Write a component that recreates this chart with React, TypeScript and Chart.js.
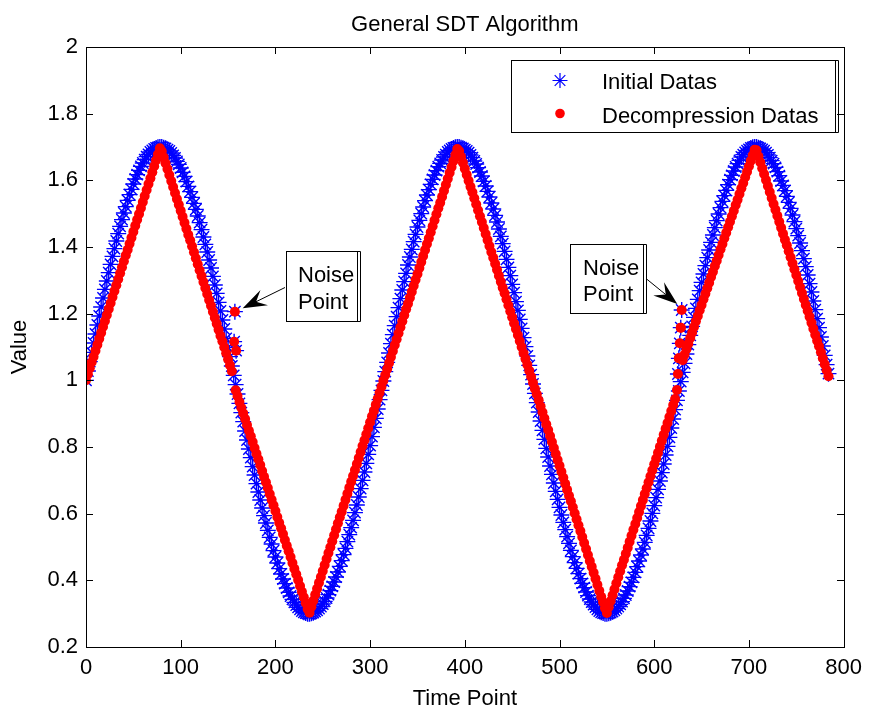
import React, { useEffect, useRef } from 'react';
import { Chart, registerables } from 'chart.js';

Chart.register(...registerables);

const FONT = "'Liberation Sans', Arial, Helvetica, sans-serif";
const TIME_STEP = 2;

// ---- data ----
const cycleStartTimes = [0, 316, 630];

// Initial Datas (blue asterisks), t = 0..314
const initialCycle1 = [
  1.000, 1.028, 1.056, 1.084, 1.112, 1.139, 1.166, 1.193, 1.220, 1.247,
  1.273, 1.298, 1.323, 1.348, 1.372, 1.395, 1.418, 1.440, 1.462, 1.482,
  1.502, 1.521, 1.540, 1.557, 1.573, 1.589, 1.604, 1.617, 1.630, 1.642,
  1.652, 1.662, 1.671, 1.678, 1.685, 1.690, 1.694, 1.697, 1.699, 1.700,
  1.700, 1.698, 1.696, 1.692, 1.688, 1.682, 1.675, 1.667, 1.657, 1.648,
  1.637, 1.624, 1.612, 1.596, 1.582, 1.566, 1.549, 1.531, 1.513, 1.493,
  1.473, 1.452, 1.430, 1.408, 1.385, 1.361, 1.337, 1.312, 1.286, 1.261,
  1.234, 1.208, 1.181, 1.154, 1.126, 1.099, 1.071, 1.043, 1.015, 0.987,
  0.959, 0.931, 0.903, 0.876, 0.848, 0.821, 0.794, 0.768, 0.741, 0.716,
  0.690, 0.665, 0.641, 0.617, 0.594, 0.572, 0.550, 0.529, 0.509, 0.489,
  0.470, 0.452, 0.435, 0.419, 0.404, 0.390, 0.377, 0.364, 0.353, 0.343,
  0.334, 0.326, 0.319, 0.313, 0.308, 0.304, 0.302, 0.300, 0.300, 0.301,
  0.303, 0.306, 0.310, 0.315, 0.321, 0.329, 0.337, 0.347, 0.357, 0.369,
  0.382, 0.395, 0.410, 0.425, 0.442, 0.459, 0.477, 0.496, 0.516, 0.537,
  0.558, 0.580, 0.603, 0.626, 0.650, 0.675, 0.700, 0.725, 0.751, 0.778,
  0.804, 0.831, 0.859, 0.886, 0.914, 0.942, 0.970, 0.998,
];
// t = 316..628
const initialCycle2 = [
  1.026, 1.054, 1.082, 1.110, 1.137, 1.164, 1.191, 1.218, 1.245,
  1.271, 1.296, 1.321, 1.346, 1.370, 1.393, 1.416, 1.438, 1.460, 1.480,
  1.500, 1.520, 1.539, 1.556, 1.572, 1.588, 1.603, 1.616, 1.629, 1.641,
  1.651, 1.661, 1.670, 1.677, 1.685, 1.690, 1.694, 1.697, 1.699, 1.700,
  1.700, 1.698, 1.696, 1.692, 1.688, 1.683, 1.676, 1.668, 1.658, 1.649,
  1.638, 1.625, 1.613, 1.597, 1.583, 1.567, 1.550, 1.532, 1.514, 1.495,
  1.475, 1.454, 1.432, 1.410, 1.387, 1.363, 1.339, 1.314, 1.288, 1.263,
  1.236, 1.210, 1.183, 1.156, 1.128, 1.101, 1.073, 1.045, 1.017, 0.989,
  0.961, 0.933, 0.905, 0.878, 0.850, 0.823, 0.796, 0.770, 0.743, 0.718,
  0.692, 0.667, 0.643, 0.619, 0.596, 0.574, 0.552, 0.531, 0.511, 0.490,
  0.471, 0.453, 0.436, 0.420, 0.405, 0.391, 0.378, 0.365, 0.354, 0.344,
  0.335, 0.327, 0.320, 0.313, 0.308, 0.304, 0.302, 0.300, 0.300, 0.301,
  0.303, 0.306, 0.310, 0.315, 0.321, 0.328, 0.336, 0.346, 0.356, 0.368,
  0.381, 0.394, 0.409, 0.424, 0.441, 0.458, 0.476, 0.494, 0.514, 0.535,
  0.556, 0.578, 0.601, 0.624, 0.648, 0.673, 0.698, 0.723, 0.749, 0.776,
  0.802, 0.829, 0.857, 0.884, 0.912, 0.940, 0.968, 0.996,
];
// t = 630..784
const initialCycle3 = [
  1.024, 1.051, 1.079, 1.107, 1.135, 1.162, 1.189, 1.216, 1.243,
  1.269, 1.294, 1.319, 1.344, 1.368, 1.391, 1.414, 1.436, 1.458, 1.479,
  1.499, 1.518, 1.537, 1.554, 1.570, 1.587, 1.602, 1.615, 1.628, 1.640,
  1.650, 1.660, 1.670, 1.677, 1.684, 1.689, 1.693, 1.697, 1.699, 1.700,
  1.700, 1.698, 1.696, 1.693, 1.689, 1.683, 1.676, 1.668, 1.659, 1.650,
  1.639, 1.626, 1.614, 1.598, 1.585, 1.569, 1.552, 1.534, 1.516, 1.496,
  1.476, 1.455, 1.434, 1.412, 1.389, 1.365, 1.341, 1.316, 1.290, 1.265,
  1.238, 1.212, 1.185, 1.158, 1.130, 1.103, 1.075, 1.047, 1.020,
];

// Decompression Datas (red dots), t = 0..314
const decompressionCycle1 = [
  1.000, 1.018, 1.036, 1.054, 1.071, 1.089, 1.107, 1.125, 1.143, 1.161,
  1.178, 1.196, 1.214, 1.232, 1.250, 1.268, 1.285, 1.303, 1.321, 1.339,
  1.357, 1.375, 1.392, 1.410, 1.428, 1.446, 1.464, 1.482, 1.499, 1.517,
  1.535, 1.553, 1.571, 1.589, 1.606, 1.624, 1.642, 1.660, 1.678, 1.696,
  1.687, 1.669, 1.651, 1.634, 1.616, 1.598, 1.580, 1.562, 1.544, 1.527,
  1.509, 1.491, 1.473, 1.455, 1.437, 1.420, 1.402, 1.384, 1.366, 1.348,
  1.330, 1.313, 1.295, 1.277, 1.259, 1.241, 1.224, 1.206, 1.188, 1.170,
  1.152, 1.134, 1.117, 1.099, 1.081, 1.063, 1.045, 1.027, null, 0.970,
  0.953, 0.935, 0.918, 0.901, 0.884, 0.866, 0.849, 0.832, 0.815, 0.797,
  0.780, 0.763, 0.746, 0.728, 0.711, 0.694, 0.677, 0.659, 0.642, 0.625,
  0.608, 0.590, 0.573, 0.556, 0.539, 0.521, 0.504, 0.487, 0.470, 0.452,
  0.435, 0.418, 0.401, 0.383, 0.366, 0.349, 0.332, 0.314, 0.303, 0.321,
  0.339, 0.357, 0.375, 0.393, 0.410, 0.428, 0.446, 0.464, 0.482, 0.499,
  0.517, 0.535, 0.553, 0.571, 0.589, 0.606, 0.624, 0.642, 0.660, 0.678,
  0.696, 0.713, 0.731, 0.749, 0.767, 0.785, 0.803, 0.820, 0.838, 0.856,
  0.874, 0.892, 0.909, 0.927, 0.945, 0.963, 0.981, 0.999,
];
// t = 316..628
const decompressionCycle2 = [
  1.016, 1.034, 1.052, 1.070, 1.088, 1.106, 1.123, 1.141, 1.159, 1.177,
  1.195, 1.213, 1.230, 1.248, 1.266, 1.284, 1.302, 1.319, 1.337, 1.355,
  1.373, 1.391, 1.409, 1.426, 1.444, 1.462, 1.480, 1.498, 1.516, 1.533,
  1.551, 1.569, 1.587, 1.605, 1.623, 1.640, 1.658, 1.676, 1.694, 1.688,
  1.671, 1.653, 1.635, 1.617, 1.599, 1.581, 1.564, 1.546, 1.528, 1.510,
  1.492, 1.475, 1.457, 1.439, 1.421, 1.403, 1.385, 1.368, 1.350, 1.332,
  1.314, 1.296, 1.278, 1.261, 1.243, 1.225, 1.207, 1.189, 1.171, 1.154,
  1.136, 1.118, 1.100, 1.082, 1.065, 1.047, 1.029, 1.011, 0.993, 0.975,
  0.958, 0.940, 0.922, 0.904, 0.886, 0.868, 0.851, 0.833, 0.815, 0.797,
  0.779, 0.761, 0.744, 0.726, 0.708, 0.690, 0.672, 0.654, 0.637, 0.619,
  0.601, 0.583, 0.565, 0.548, 0.530, 0.512, 0.494, 0.476, 0.458, 0.441,
  0.423, 0.405, 0.387, 0.369, 0.351, 0.334, 0.316, 0.302, 0.320, 0.338,
  0.355, 0.373, 0.391, 0.409, 0.427, 0.445, 0.462, 0.480, 0.498, 0.516,
  0.534, 0.552, 0.569, 0.587, 0.605, 0.623, 0.641, 0.659, 0.676, 0.694,
  0.712, 0.730, 0.748, 0.765, 0.783, 0.801, 0.819, 0.837, 0.855, 0.872,
  0.890, 0.908, 0.926, 0.944, 0.971, 1.066, 1.158,
];
// t = 630..784
const decompressionCycle3 = [
  1.060, 1.077, 1.093, 1.110, 1.127, 1.143, 1.160, 1.177, 1.193, 1.210,
  1.226, 1.243, 1.260, 1.276, 1.293, 1.310, 1.326, 1.343, 1.359, 1.376,
  1.393, 1.409, 1.426, 1.443, 1.459, 1.476, 1.492, 1.509, 1.526, 1.542,
  1.559, 1.576, 1.592, 1.609, 1.626, 1.642, 1.659, 1.675, 1.692, 1.690,
  1.672, 1.654, 1.636, 1.619, 1.601, 1.583, 1.565, 1.547, 1.529, 1.512,
  1.494, 1.476, 1.458, 1.440, 1.422, 1.405, 1.387, 1.369, 1.351, 1.333,
  1.316, 1.298, 1.280, 1.262, 1.244, 1.226, 1.209, 1.191, 1.173, 1.155,
  1.137, 1.119, 1.102, 1.084, 1.066, 1.048, 1.030, 1.012,
];

// Noise points (present in both series)
const noiseTimes = [156.4, 157.2, 158.5, 625, 626, 627, 628, 629];
const noiseValues = [1.116, 1.206, 1.089, 1.019, 1.066, 1.111, 1.158, 1.211];

const xTickStep = 100;
const yTickStep = 0.2;

// ---- helpers ----
type Pt = { x: number; y: number };
function buildPoints(cycles: (number | null)[][]): Pt[] {
  const pts: Pt[] = [];
  cycles.forEach((arr, c) => {
    arr.forEach((v, i) => {
      if (v !== null) pts.push({ x: cycleStartTimes[c] + i * TIME_STEP, y: v });
    });
  });
  noiseTimes.forEach((t, i) => pts.push({ x: t, y: noiseValues[i] }));
  return pts;
}

function drawStar(ctx: CanvasRenderingContext2D, x: number, y: number, r: number) {
  ctx.beginPath();
  for (let i = 0; i < 4; i++) {
    const a = (i * Math.PI) / 4;
    const dx = Math.cos(a) * r;
    const dy = Math.sin(a) * r;
    ctx.moveTo(x - dx, y - dy);
    ctx.lineTo(x + dx, y + dy);
  }
  ctx.stroke();
}

function drawArrow(ctx: CanvasRenderingContext2D, tailX: number, tailY: number, tipX: number, tipY: number) {
  const dx = tailX - tipX;
  const dy = tailY - tipY;
  const len = Math.hypot(dx, dy);
  const ux = dx / len;
  const uy = dy / len;
  const nx = -uy;
  const ny = ux;
  const L = 24;
  const W = 8.5;
  const N = 0.62 * L;
  ctx.beginPath();
  ctx.moveTo(tailX, tailY);
  ctx.lineTo(tipX + ux * N, tipY + uy * N);
  ctx.stroke();
  ctx.beginPath();
  ctx.moveTo(tipX, tipY);
  ctx.lineTo(tipX + ux * L + nx * W, tipY + uy * L + ny * W);
  ctx.lineTo(tipX + ux * N, tipY + uy * N);
  ctx.lineTo(tipX + ux * L - nx * W, tipY + uy * L - ny * W);
  ctx.closePath();
  ctx.fill();
}

function drawBox(ctx: CanvasRenderingContext2D, left: number, top: number, right: number, bottom: number) {
  ctx.strokeRect(left + 0.5, top + 0.5, right - left, bottom - top);
  // the slight right-hand "shadow" bracket of the MATLAB export
  const bx = right + 3.5;
  ctx.beginPath();
  ctx.moveTo(bx - 3, top + 0.5);
  ctx.lineTo(bx, top + 0.5);
  ctx.lineTo(bx, bottom + 0.5);
  ctx.lineTo(bx - 3, bottom + 0.5);
  ctx.stroke();
}

const overlayPlugin = {
  id: 'matlabOverlay',
  afterDraw(chart: any) {
    const { ctx, chartArea: a, scales } = chart;
    const xs = scales.x;
    const ys = scales.y;
    ctx.save();
    ctx.strokeStyle = '#000';
    ctx.fillStyle = '#000';
    ctx.lineWidth = 1;

    // axes box
    const L = Math.round(a.left);
    const R = Math.round(a.right);
    const T = Math.round(a.top);
    const B = Math.round(a.bottom);
    ctx.strokeRect(L + 0.5, T + 0.5, R - L, B - T);

    // inward ticks on all four sides
    const tl = 7;
    ctx.beginPath();
    xs.ticks.forEach((t: any) => {
      const px = Math.round(xs.getPixelForValue(t.value)) + 0.5;
      ctx.moveTo(px, B);
      ctx.lineTo(px, B - tl);
      ctx.moveTo(px, T);
      ctx.lineTo(px, T + tl);
    });
    ys.ticks.forEach((t: any) => {
      const py = Math.round(ys.getPixelForValue(t.value)) + 0.5;
      ctx.moveTo(L, py);
      ctx.lineTo(L + tl, py);
      ctx.moveTo(R, py);
      ctx.lineTo(R - tl, py);
    });
    ctx.stroke();

    // title & axis labels
    ctx.font = `22px ${FONT}`;
    ctx.textAlign = 'center';
    ctx.textBaseline = 'alphabetic';
    const cx = (a.left + a.right) / 2;
    ctx.fillText('General SDT Algorithm', cx, 31);
    ctx.fillText('Time Point', cx, 705);
    ctx.save();
    ctx.translate(26, (a.top + a.bottom) / 2);
    ctx.rotate(-Math.PI / 2);
    ctx.fillText('Value', 0, 0);
    ctx.restore();

    // legend
    ctx.fillStyle = '#fff';
    ctx.fillRect(511, 60, 324, 72);
    ctx.fillStyle = '#000';
    drawBox(ctx, 511, 60, 835, 132);
    ctx.strokeStyle = '#0000ff';
    ctx.lineWidth = 1.2;
    drawStar(ctx, 560, 80.5, 7.5);
    ctx.lineWidth = 1;
    ctx.fillStyle = '#ff0000';
    ctx.beginPath();
    ctx.arc(560, 113.5, 4.8, 0, Math.PI * 2);
    ctx.fill();
    ctx.fillStyle = '#000';
    ctx.strokeStyle = '#000';
    ctx.textAlign = 'left';
    ctx.fillText('Initial Datas', 602, 89);
    ctx.fillText('Decompression Datas', 602, 122.5);

    // noise annotations
    drawBox(ctx, 286, 251, 357, 321);
    ctx.fillText('Noise', 298, 282);
    ctx.fillText('Point', 298, 309);
    drawArrow(ctx, 285, 287.5, 242.7, 308.3);

    drawBox(ctx, 570, 244, 643, 313);
    ctx.fillText('Noise', 583, 274.5);
    ctx.fillText('Point', 583, 301);
    drawArrow(ctx, 646, 278.5, 677.3, 304);

    ctx.restore();
  },
};

export default function App() {
  const ref = useRef<HTMLCanvasElement>(null);

  useEffect(() => {
    document.body.style.margin = '0';
    const canvas = ref.current;
    if (!canvas) return;
    const initialPts = buildPoints([initialCycle1, initialCycle2, initialCycle3]);
    const decompPts = buildPoints([decompressionCycle1, decompressionCycle2, decompressionCycle3]);

    const chart = new Chart(canvas, {
      type: 'scatter',
      data: {
        datasets: [
          {
            label: 'Decompression Datas',
            data: decompPts,
            pointStyle: 'circle',
            pointRadius: 5,
            backgroundColor: '#ff0000',
            borderColor: '#ff0000',
            borderWidth: 0,
            order: 0,
          },
          {
            label: 'Initial Datas',
            data: initialPts,
            pointStyle: 'star',
            pointRadius: 8,
            backgroundColor: '#0000ff',
            borderColor: '#0000ff',
            borderWidth: 1.4,
            order: 1,
          },
        ],
      },
      options: {
        animation: false,
        responsive: false,
        devicePixelRatio: 1,
        events: [],
        layout: { padding: { top: 47, right: 22, left: 0, bottom: 0 } },
        plugins: {
          legend: { display: false },
          title: { display: false },
          tooltip: { enabled: false },
        },
        scales: {
          x: {
            type: 'linear',
            min: 0,
            max: 800,
            grid: { display: false, drawTicks: false },
            border: { display: false },
            ticks: {
              stepSize: xTickStep,
              autoSkip: false,
              maxRotation: 0,
              padding: 8,
              color: '#000',
              font: { family: FONT, size: 22 },
            },
            afterFit(s: any) {
              s.height = 62;
            },
          },
          y: {
            type: 'linear',
            min: 0.2,
            max: 2,
            grid: { display: false, drawTicks: false },
            border: { display: false },
            ticks: {
              stepSize: yTickStep,
              autoSkip: false,
              padding: 8,
              color: '#000',
              font: { family: FONT, size: 22 },
              callback: (v: any) => String(Math.round(Number(v) * 10) / 10),
            },
            afterFit(s: any) {
              s.width = 86;
            },
          },
        },
      },
      plugins: [overlayPlugin],
    } as any);

    return () => chart.destroy();
  }, []);

  return (
    <div style={{ width: 870, height: 709, background: '#fff' }}>
      <canvas ref={ref} width={870} height={709} style={{ display: 'block', width: 870, height: 709 }} />
    </div>
  );
}
